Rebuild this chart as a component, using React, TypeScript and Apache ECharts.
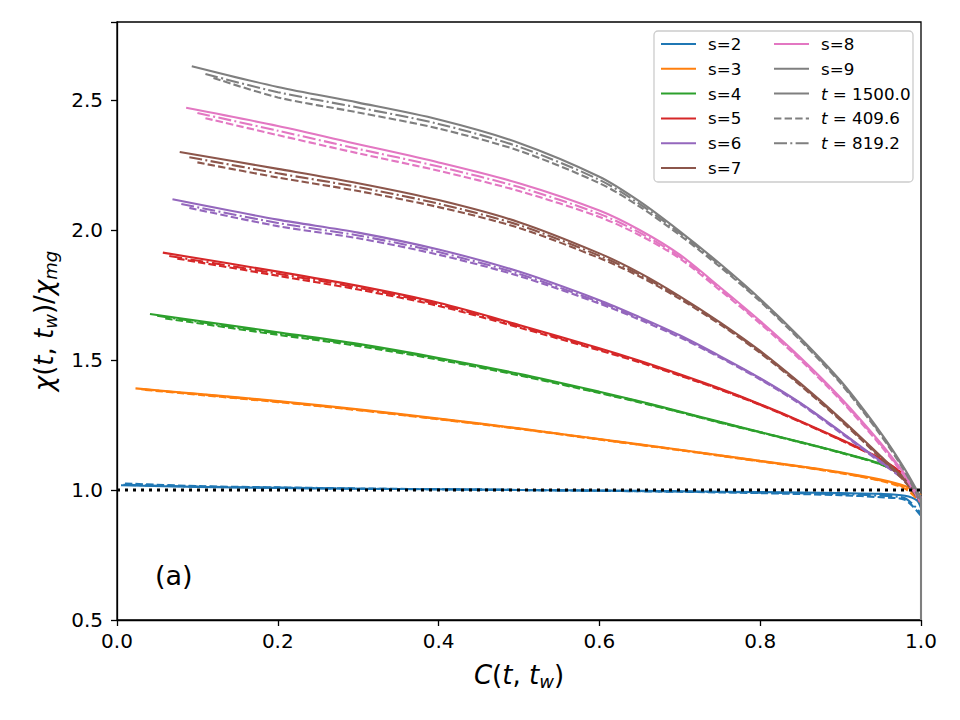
import React, { useEffect, useRef } from "react";
import * as echarts from "echarts";

const FONT = "DejaVu Sans";

const xTicks = [0, 0.2, 0.4, 0.6, 0.8, 1.0];
const yTicks = [0.5, 1.0, 1.5, 2.0, 2.5];
const sLabels = ["s=2", "s=3", "s=4", "s=5", "s=6", "s=7", "s=8", "s=9"];
const tLabels = ["t = 1500.0", "t = 409.6", "t = 819.2"];
const colors = ["#1f77b4", "#ff7f0e", "#2ca02c", "#d62728", "#9467bd", "#8c564b", "#e377c2", "#7f7f7f"];

// reference line chi/chi_mg = 1
const refLine = [[0, 1], [1, 1]];

// s=2
const s2Solid = [[0.005, 1.018], [0.1, 1.012], [0.2, 1.008], [0.3, 1.005], [0.4, 1.003], [0.5, 1.0], [0.6, 0.998], [0.7, 0.995], [0.8, 0.992], [0.9, 0.988], [0.95, 0.985], [0.98, 0.978], [0.995, 0.96], [1.0, 0.93]];
const s2Dash = [[0.01, 1.025], [0.1, 1.015], [0.2, 1.01], [0.3, 1.006], [0.4, 1.003], [0.5, 1.0], [0.6, 0.997], [0.7, 0.993], [0.8, 0.988], [0.9, 0.98], [0.95, 0.972], [0.98, 0.962], [1.0, 0.9]];
const s2DashDot = [[0.008, 1.02], [0.1, 1.013], [0.2, 1.009], [0.3, 1.005], [0.4, 1.003], [0.5, 1.0], [0.6, 0.997], [0.7, 0.994], [0.8, 0.99], [0.9, 0.984], [0.95, 0.978], [0.98, 0.968], [1.0, 0.91]];
// s=3
const s3Solid = [[0.023, 1.391], [0.1, 1.37], [0.2, 1.342], [0.3, 1.31], [0.4, 1.275], [0.5, 1.237], [0.6, 1.196], [0.7, 1.155], [0.8, 1.112], [0.85, 1.091], [0.9, 1.068], [0.95, 1.04], [0.98, 1.015], [1.0, 0.98]];
const s3Dash = [[0.035, 1.385], [0.2, 1.338], [0.3, 1.307], [0.4, 1.272], [0.5, 1.235], [0.6, 1.194], [0.7, 1.153], [0.8, 1.11], [0.85, 1.089], [0.9, 1.065], [0.95, 1.035], [0.98, 1.005], [1.0, 0.95]];
const s3DashDot = [[0.03, 1.388], [0.2, 1.34], [0.3, 1.308], [0.4, 1.273], [0.5, 1.236], [0.6, 1.195], [0.7, 1.154], [0.8, 1.111], [0.85, 1.09], [0.9, 1.066], [0.95, 1.037], [0.98, 1.01], [1.0, 0.96]];
// s=4
const s4Solid = [[0.041, 1.677], [0.2, 1.607], [0.3, 1.562], [0.4, 1.508], [0.5, 1.447], [0.6, 1.378], [0.65, 1.341], [0.7, 1.302], [0.75, 1.262], [0.8, 1.223], [0.85, 1.185], [0.9, 1.145], [0.95, 1.1], [0.98, 1.05], [1.0, 0.97]];
const s4Dash = [[0.06, 1.66], [0.2, 1.597], [0.3, 1.554], [0.4, 1.501], [0.5, 1.441], [0.6, 1.373], [0.65, 1.337], [0.7, 1.299], [0.75, 1.259], [0.8, 1.221], [0.85, 1.183], [0.9, 1.143], [0.95, 1.098], [0.98, 1.047], [1.0, 0.95]];
const s4DashDot = [[0.05, 1.67], [0.2, 1.602], [0.3, 1.558], [0.4, 1.505], [0.5, 1.444], [0.6, 1.375], [0.65, 1.339], [0.7, 1.3], [0.75, 1.26], [0.8, 1.222], [0.85, 1.184], [0.9, 1.144], [0.95, 1.099], [0.98, 1.048], [1.0, 0.96]];
// s=5
const s5Solid = [[0.057, 1.913], [0.2, 1.84], [0.3, 1.785], [0.4, 1.72], [0.5, 1.635], [0.6, 1.545], [0.65, 1.497], [0.7, 1.445], [0.75, 1.39], [0.8, 1.33], [0.85, 1.265], [0.9, 1.195], [0.95, 1.12], [0.98, 1.055], [1.0, 0.97]];
const s5Dash = [[0.075, 1.89], [0.2, 1.824], [0.3, 1.771], [0.4, 1.708], [0.5, 1.625], [0.6, 1.537], [0.65, 1.491], [0.7, 1.44], [0.75, 1.386], [0.8, 1.327], [0.85, 1.262], [0.9, 1.192], [0.95, 1.117], [0.98, 1.052], [1.0, 0.95]];
const s5DashDot = [[0.065, 1.9], [0.2, 1.832], [0.3, 1.778], [0.4, 1.714], [0.5, 1.63], [0.6, 1.541], [0.65, 1.494], [0.7, 1.442], [0.75, 1.388], [0.8, 1.328], [0.85, 1.263], [0.9, 1.193], [0.95, 1.118], [0.98, 1.053], [1.0, 0.96]];
// s=6
const s6Solid = [[0.069, 2.118], [0.2, 2.04], [0.3, 1.99], [0.4, 1.925], [0.5, 1.84], [0.6, 1.73], [0.65, 1.665], [0.7, 1.595], [0.75, 1.515], [0.8, 1.43], [0.85, 1.335], [0.9, 1.225], [0.95, 1.11], [0.98, 1.04], [1.0, 0.97]];
const s6Dash = [[0.09, 2.085], [0.2, 2.015], [0.3, 1.968], [0.4, 1.905], [0.5, 1.823], [0.6, 1.717], [0.65, 1.655], [0.7, 1.587], [0.75, 1.509], [0.8, 1.425], [0.85, 1.33], [0.9, 1.22], [0.95, 1.105], [0.98, 1.035], [1.0, 0.95]];
const s6DashDot = [[0.08, 2.1], [0.2, 2.027], [0.3, 1.979], [0.4, 1.915], [0.5, 1.831], [0.6, 1.723], [0.65, 1.66], [0.7, 1.591], [0.75, 1.512], [0.8, 1.428], [0.85, 1.333], [0.9, 1.223], [0.95, 1.108], [0.98, 1.038], [1.0, 0.96]];
// s=7
const s7Solid = [[0.078, 2.3], [0.2, 2.235], [0.3, 2.18], [0.4, 2.115], [0.5, 2.03], [0.6, 1.91], [0.65, 1.835], [0.7, 1.745], [0.75, 1.645], [0.8, 1.535], [0.85, 1.41], [0.9, 1.275], [0.95, 1.13], [0.98, 1.04], [1.0, 0.97]];
const s7Dash = [[0.1, 2.26], [0.2, 2.202], [0.3, 2.15], [0.4, 2.088], [0.5, 2.008], [0.6, 1.892], [0.65, 1.821], [0.7, 1.735], [0.75, 1.637], [0.8, 1.527], [0.85, 1.402], [0.9, 1.267], [0.95, 1.122], [0.98, 1.032], [1.0, 0.95]];
const s7DashDot = [[0.09, 2.28], [0.2, 2.218], [0.3, 2.165], [0.4, 2.101], [0.5, 2.019], [0.6, 1.901], [0.65, 1.828], [0.7, 1.74], [0.75, 1.641], [0.8, 1.531], [0.85, 1.406], [0.9, 1.271], [0.95, 1.126], [0.98, 1.036], [1.0, 0.96]];
// s=8
const s8Solid = [[0.086, 2.47], [0.2, 2.4], [0.3, 2.33], [0.4, 2.26], [0.5, 2.18], [0.6, 2.075], [0.65, 2.0], [0.7, 1.905], [0.75, 1.78], [0.8, 1.65], [0.85, 1.51], [0.9, 1.355], [0.95, 1.18], [0.98, 1.06], [1.0, 0.97]];
const s8Dash = [[0.11, 2.43], [0.2, 2.365], [0.3, 2.295], [0.4, 2.228], [0.5, 2.15], [0.6, 2.05], [0.65, 1.98], [0.7, 1.89], [0.75, 1.768], [0.8, 1.64], [0.85, 1.5], [0.9, 1.345], [0.95, 1.17], [0.98, 1.05], [1.0, 0.95]];
const s8DashDot = [[0.1, 2.45], [0.2, 2.382], [0.3, 2.312], [0.4, 2.244], [0.5, 2.165], [0.6, 2.062], [0.65, 1.99], [0.7, 1.897], [0.75, 1.774], [0.8, 1.645], [0.85, 1.505], [0.9, 1.35], [0.95, 1.175], [0.98, 1.055], [1.0, 0.96]];
// s=9
const s9Solid = [[0.093, 2.63], [0.2, 2.55], [0.3, 2.49], [0.4, 2.425], [0.5, 2.335], [0.6, 2.205], [0.65, 2.11], [0.7, 1.995], [0.75, 1.87], [0.8, 1.735], [0.85, 1.585], [0.9, 1.42], [0.95, 1.22], [0.98, 1.08], [1.0, 0.97]];
const s9Dash = [[0.12, 2.585], [0.2, 2.51], [0.3, 2.452], [0.4, 2.39], [0.5, 2.305], [0.6, 2.18], [0.65, 2.09], [0.7, 1.98], [0.75, 1.858], [0.8, 1.725], [0.85, 1.575], [0.9, 1.41], [0.95, 1.21], [0.98, 1.07], [1.0, 0.95]];
const s9DashDot = [[0.11, 2.6], [0.2, 2.53], [0.3, 2.471], [0.4, 2.408], [0.5, 2.32], [0.6, 2.193], [0.65, 2.1], [0.7, 1.988], [0.75, 1.864], [0.8, 1.73], [0.85, 1.58], [0.9, 1.415], [0.95, 1.215], [0.98, 1.075], [1.0, 0.96]];
// steep drop at C = 1
const s9Tail = [[1.0, 0.97], [1.0, 0.5]];

const solidSets = [s2Solid, s3Solid, s4Solid, s5Solid, s6Solid, s7Solid, s8Solid, s9Solid];
const dashSets = [s2Dash, s3Dash, s4Dash, s5Dash, s6Dash, s7Dash, s8Dash, s9Dash];
const dashDotSets = [s2DashDot, s3DashDot, s4DashDot, s5DashDot, s6DashDot, s7DashDot, s8DashDot, s9DashDot];

const LW = 2.1;
const DASH = [7.4, 3.2];
const DASHDOT = [13, 3.3, 2, 3.3];

function lineSeries(name: string, data: number[][], color: string, type: any, z = 2) {
  return {
    type: "line",
    name,
    data,
    symbol: "none",
    showSymbol: false,
    smooth: 0.3,
    silent: true,
    z,
    itemStyle: { color },
    lineStyle: { color, width: LW, type, cap: "butt" },
  };
}

export default function App() {
  const ref = useRef<HTMLDivElement>(null);
  useEffect(() => {
    if (!ref.current) return;
    const chart = echarts.init(ref.current, undefined, { renderer: "svg" });
    const series: any[] = [];
    series.push({
      type: "line",
      name: "ref",
      data: refLine,
      symbol: "none",
      silent: true,
      z: 3,
      lineStyle: { color: "#000", width: 3, type: [3, 5], cap: "butt" },
    });
    sLabels.forEach((lab, i) => {
      series.push(lineSeries(lab, solidSets[i], colors[i], "solid"));
      series.push(lineSeries(lab + " dash", dashSets[i], colors[i], DASH));
      series.push(lineSeries(lab + " dashdot", dashDotSets[i], colors[i], DASHDOT));
    });
    series.push(lineSeries("s=9 tail", s9Tail, colors[7], "solid"));
    series.push(lineSeries(tLabels[0], [], "#7f7f7f", "solid"));
    series.push(lineSeries(tLabels[1], [], "#7f7f7f", DASH));
    series.push(lineSeries(tLabels[2], [], "#7f7f7f", DASHDOT));

    const legendText = {
      fontFamily: FONT,
      fontSize: 16.7,
      color: "#000",
      padding: [0, 0, 0, 7],
      lineHeight: 14,
      rich: {
        i: { fontFamily: FONT, fontSize: 16.7, fontStyle: "italic", color: "#000", lineHeight: 14 },
        n: { fontFamily: FONT, fontSize: 16.7, color: "#000", lineHeight: 14 },
      },
    };
    const legendFmt = (name: string) =>
      name.startsWith("t ") ? `{i|t}{n| = ${name.slice(4)}}` : name;
    const legendCommon = {
      orient: "vertical",
      top: 30.5,
      itemWidth: 35,
      itemHeight: 14,
      itemGap: 7.8,
      textStyle: legendText,
      formatter: legendFmt,
      selectedMode: false,
      itemStyle: { color: "transparent", borderColor: "transparent", borderWidth: 0, opacity: 0 },
    };

    const nameRich = {
      i: { fontFamily: FONT, fontSize: 26, fontStyle: "italic", color: "#000" },
      n: { fontFamily: FONT, fontSize: 26, color: "#000" },
      sub: { fontFamily: FONT, fontSize: 18, fontStyle: "italic", color: "#000", padding: [12, 0, 0, 0] },
    };

    chart.setOption({
      animation: false,
      backgroundColor: "#fff",
      grid: { left: 117, right: 39, top: 22, bottom: 100, show: true, borderColor: "#000", borderWidth: 1.3, backgroundColor: "transparent" },
      xAxis: {
        type: "value",
        min: 0,
        max: 1,
        interval: 0.2,
        name: "{i|C}{n|(}{i|t}{n|, }{i|t}{sub|w}{n|)}",
        nameLocation: "middle",
        nameGap: 40,
        nameTextStyle: { rich: nameRich },
        axisLine: { show: true, onZero: false, lineStyle: { color: "#000", width: 1.3 } },
        axisTick: { show: true, length: 6, lineStyle: { color: "#000", width: 1.3 } },
        axisLabel: { fontFamily: FONT, fontSize: 20, color: "#000", margin: 11, formatter: (v: number) => (xTicks.includes(v) ? v.toFixed(1) : "") },
        splitLine: { show: false },
      },
      yAxis: {
        type: "value",
        min: 0.5,
        max: 2.8,
        interval: 0.5,
        name: "{i|χ}{n|(}{i|t}{n|, }{i|t}{sub|w}{n|)/}{i|χ}{sub|mg}",
        nameLocation: "middle",
        nameRotate: 90,
        nameGap: 58,
        nameTextStyle: { rich: nameRich },
        axisLine: { show: true, onZero: false, lineStyle: { color: "#000", width: 1.3 } },
        axisTick: { show: true, length: 6, lineStyle: { color: "#000", width: 1.3 } },
        axisLabel: { fontFamily: FONT, fontSize: 20, color: "#000", margin: 14, formatter: (v: number) => (yTicks.includes(v) ? v.toFixed(1) : "") },
        splitLine: { show: false },
      },
      legend: [
        { ...legendCommon, left: 655, data: sLabels.slice(0, 6) },
        { ...legendCommon, left: 768, data: [sLabels[6], sLabels[7], ...tLabels] },
      ],
      graphic: [
        {
          type: "rect",
          shape: { x: 654, y: 31, width: 259, height: 151, r: 4 },
          style: { fill: "rgba(255,255,255,0.85)", stroke: "#cccccc", lineWidth: 1.3 },
          z: 3,
          silent: true,
        },
        {
          type: "text",
          left: 155,
          top: 562,
          style: { text: "(a)", fontFamily: FONT, fontSize: 27, fill: "#000" },
          z: 5,
        },
      ],
      series,
    });
    return () => chart.dispose();
  }, []);
  return <div ref={ref} style={{ width: 960, height: 720, position: "absolute", left: 0, top: 0 }} />;
}
